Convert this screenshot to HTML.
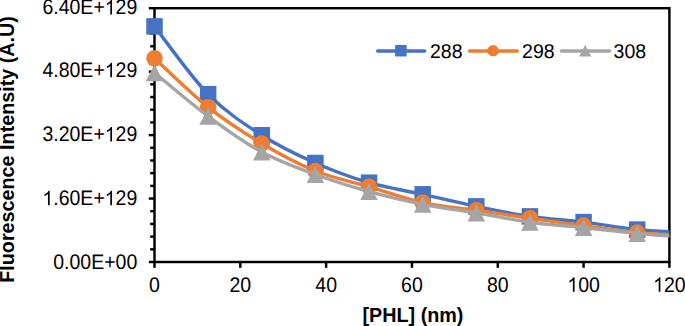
<!DOCTYPE html>
<html><head><meta charset="utf-8"><style>
html,body{margin:0;padding:0;background:#fff;}
svg{display:block;}
.t{text-rendering:geometricPrecision;font-family:"Liberation Sans",sans-serif;font-size:19.5px;fill:#000;}
.b{font-family:"Liberation Sans",sans-serif;font-size:19.75px;font-weight:bold;fill:#000;}
</style></head><body>
<svg width="685" height="326" viewBox="0 0 685 326">
<defs><clipPath id="c"><rect x="144.5" y="0" width="524.9" height="326"/></clipPath></defs>
<rect width="685" height="326" fill="#fff"/>
<rect x="154.5" y="8.2" width="514.9" height="253.8" fill="none" stroke="#000" stroke-width="2.45"/>
<line x1="148.8" y1="262.00" x2="154.5" y2="262.00" stroke="#000" stroke-width="2.45"/>
<line x1="150.2" y1="249.31" x2="154.5" y2="249.31" stroke="#000" stroke-width="2.45"/>
<line x1="150.2" y1="236.62" x2="154.5" y2="236.62" stroke="#000" stroke-width="2.45"/>
<line x1="150.2" y1="223.93" x2="154.5" y2="223.93" stroke="#000" stroke-width="2.45"/>
<line x1="150.2" y1="211.24" x2="154.5" y2="211.24" stroke="#000" stroke-width="2.45"/>
<line x1="148.8" y1="198.55" x2="154.5" y2="198.55" stroke="#000" stroke-width="2.45"/>
<line x1="150.2" y1="185.86" x2="154.5" y2="185.86" stroke="#000" stroke-width="2.45"/>
<line x1="150.2" y1="173.17" x2="154.5" y2="173.17" stroke="#000" stroke-width="2.45"/>
<line x1="150.2" y1="160.48" x2="154.5" y2="160.48" stroke="#000" stroke-width="2.45"/>
<line x1="150.2" y1="147.79" x2="154.5" y2="147.79" stroke="#000" stroke-width="2.45"/>
<line x1="148.8" y1="135.10" x2="154.5" y2="135.10" stroke="#000" stroke-width="2.45"/>
<line x1="150.2" y1="122.41" x2="154.5" y2="122.41" stroke="#000" stroke-width="2.45"/>
<line x1="150.2" y1="109.72" x2="154.5" y2="109.72" stroke="#000" stroke-width="2.45"/>
<line x1="150.2" y1="97.03" x2="154.5" y2="97.03" stroke="#000" stroke-width="2.45"/>
<line x1="150.2" y1="84.34" x2="154.5" y2="84.34" stroke="#000" stroke-width="2.45"/>
<line x1="148.8" y1="71.65" x2="154.5" y2="71.65" stroke="#000" stroke-width="2.45"/>
<line x1="150.2" y1="58.96" x2="154.5" y2="58.96" stroke="#000" stroke-width="2.45"/>
<line x1="150.2" y1="46.27" x2="154.5" y2="46.27" stroke="#000" stroke-width="2.45"/>
<line x1="150.2" y1="33.58" x2="154.5" y2="33.58" stroke="#000" stroke-width="2.45"/>
<line x1="150.2" y1="20.89" x2="154.5" y2="20.89" stroke="#000" stroke-width="2.45"/>
<line x1="148.8" y1="8.20" x2="154.5" y2="8.20" stroke="#000" stroke-width="2.45"/>
<line x1="154.50" y1="262.0" x2="154.50" y2="267.8" stroke="#000" stroke-width="2.45"/>
<line x1="240.32" y1="262.0" x2="240.32" y2="267.8" stroke="#000" stroke-width="2.45"/>
<line x1="326.13" y1="262.0" x2="326.13" y2="267.8" stroke="#000" stroke-width="2.45"/>
<line x1="411.95" y1="262.0" x2="411.95" y2="267.8" stroke="#000" stroke-width="2.45"/>
<line x1="497.77" y1="262.0" x2="497.77" y2="267.8" stroke="#000" stroke-width="2.45"/>
<line x1="583.58" y1="262.0" x2="583.58" y2="267.8" stroke="#000" stroke-width="2.45"/>
<line x1="669.40" y1="262.0" x2="669.40" y2="267.8" stroke="#000" stroke-width="2.45"/>
<text transform="translate(53.26,268.50) scale(1,1.08)" x="0" y="0" class="t">0.00E+00</text>
<text transform="translate(42.42,205.25) scale(1,1.08)" x="0" y="0" class="t"> .60E+ 29</text><path transform="translate(42.42,205.25) scale(0.009521,-0.009883)" d="M763,0L583,0L583,1147Q518,1085 465,1054Q412,1023 359,992Q306,961 222,930L222,1104Q373,1175 429.5,1225.5Q486,1276 542,1326Q598,1376 645,1466L763,1466Z"/><path transform="translate(104.77,205.25) scale(0.009521,-0.009883)" d="M763,0L583,0L583,1147Q518,1085 465,1054Q412,1023 359,992Q306,961 222,930L222,1104Q373,1175 429.5,1225.5Q486,1276 542,1326Q598,1376 645,1466L763,1466Z"/>
<text transform="translate(42.42,141.40) scale(1,1.08)" x="0" y="0" class="t">3.20E+ 29</text><path transform="translate(104.77,141.40) scale(0.009521,-0.009883)" d="M763,0L583,0L583,1147Q518,1085 465,1054Q412,1023 359,992Q306,961 222,930L222,1104Q373,1175 429.5,1225.5Q486,1276 542,1326Q598,1376 645,1466L763,1466Z"/>
<text transform="translate(42.42,77.35) scale(1,1.08)" x="0" y="0" class="t">4.80E+ 29</text><path transform="translate(104.77,77.35) scale(0.009521,-0.009883)" d="M763,0L583,0L583,1147Q518,1085 465,1054Q412,1023 359,992Q306,961 222,930L222,1104Q373,1175 429.5,1225.5Q486,1276 542,1326Q598,1376 645,1466L763,1466Z"/>
<text transform="translate(42.42,14.40) scale(1,1.08)" x="0" y="0" class="t">6.40E+ 29</text><path transform="translate(104.77,14.40) scale(0.009521,-0.009883)" d="M763,0L583,0L583,1147Q518,1085 465,1054Q412,1023 359,992Q306,961 222,930L222,1104Q373,1175 429.5,1225.5Q486,1276 542,1326Q598,1376 645,1466L763,1466Z"/>
<text transform="translate(149.08,291.70) scale(1,1.08)" x="0" y="0" class="t">0</text>
<text transform="translate(229.47,291.70) scale(1,1.08)" x="0" y="0" class="t">20</text>
<text transform="translate(315.29,291.70) scale(1,1.08)" x="0" y="0" class="t">40</text>
<text transform="translate(401.11,291.70) scale(1,1.08)" x="0" y="0" class="t">60</text>
<text transform="translate(486.92,291.70) scale(1,1.08)" x="0" y="0" class="t">80</text>
<text transform="translate(567.32,291.70) scale(1,1.08)" x="0" y="0" class="t"> 00</text><path transform="translate(567.32,291.70) scale(0.009521,-0.009883)" d="M763,0L583,0L583,1147Q518,1085 465,1054Q412,1023 359,992Q306,961 222,930L222,1104Q373,1175 429.5,1225.5Q486,1276 542,1326Q598,1376 645,1466L763,1466Z"/>
<text transform="translate(653.13,291.70) scale(1,1.08)" x="0" y="0" class="t"> 20</text><path transform="translate(653.13,291.70) scale(0.009521,-0.009883)" d="M763,0L583,0L583,1147Q518,1085 465,1054Q412,1023 359,992Q306,961 222,930L222,1104Q373,1175 429.5,1225.5Q486,1276 542,1326Q598,1376 645,1466L763,1466Z"/>
<text x="413" y="321.5" text-anchor="middle" class="b">[PHL] (nm)</text>
<text transform="translate(14.2,149.4) rotate(-90)" x="0" y="0" text-anchor="middle" class="b">Fluorescence Intensity (A.U)</text>
<g clip-path="url(#c)">
<path d="M154.50,26.40 C163.44,37.70 190.26,76.07 208.14,94.20 C226.01,112.33 243.89,123.73 261.77,135.20 C279.65,146.67 297.53,155.08 315.41,163.00 C333.28,170.92 351.16,177.48 369.04,182.70 C386.92,187.92 404.80,190.35 422.68,194.30 C440.56,198.25 458.43,202.72 476.31,206.40 C494.19,210.08 512.07,213.78 529.95,216.40 C547.83,219.02 565.70,219.90 583.58,222.10 C601.46,224.30 619.34,227.82 637.22,229.60 C655.10,231.38 681.91,232.27 690.85,232.80" fill="none" stroke="#4472C4" stroke-width="3.4" stroke-linejoin="round" stroke-linecap="round"/><rect x="146.25" y="18.15" width="16.5" height="16.5" fill="#4472C4"/><rect x="199.89" y="85.95" width="16.5" height="16.5" fill="#4472C4"/><rect x="253.52" y="126.95" width="16.5" height="16.5" fill="#4472C4"/><rect x="307.16" y="154.75" width="16.5" height="16.5" fill="#4472C4"/><rect x="360.79" y="174.45" width="16.5" height="16.5" fill="#4472C4"/><rect x="414.43" y="186.05" width="16.5" height="16.5" fill="#4472C4"/><rect x="468.06" y="198.15" width="16.5" height="16.5" fill="#4472C4"/><rect x="521.70" y="208.15" width="16.5" height="16.5" fill="#4472C4"/><rect x="575.33" y="213.85" width="16.5" height="16.5" fill="#4472C4"/><rect x="628.97" y="221.35" width="16.5" height="16.5" fill="#4472C4"/>
<path d="M154.50,58.30 C163.44,66.45 190.26,93.00 208.14,107.20 C226.01,121.40 243.89,132.87 261.77,143.50 C279.65,154.13 297.53,163.80 315.41,171.00 C333.28,178.20 351.16,181.43 369.04,186.70 C386.92,191.97 404.80,198.68 422.68,202.60 C440.56,206.52 458.43,207.60 476.31,210.20 C494.19,212.80 512.07,215.63 529.95,218.20 C547.83,220.77 565.70,223.20 583.58,225.60 C601.46,228.00 619.34,230.90 637.22,232.60 C655.10,234.30 681.91,235.27 690.85,235.80" fill="none" stroke="#ED7D31" stroke-width="3.4" stroke-linejoin="round" stroke-linecap="round"/><circle cx="154.50" cy="58.30" r="8.25" fill="#ED7D31"/><circle cx="208.14" cy="107.20" r="8.25" fill="#ED7D31"/><circle cx="261.77" cy="143.50" r="8.25" fill="#ED7D31"/><circle cx="315.41" cy="171.00" r="8.25" fill="#ED7D31"/><circle cx="369.04" cy="186.70" r="8.25" fill="#ED7D31"/><circle cx="422.68" cy="202.60" r="8.25" fill="#ED7D31"/><circle cx="476.31" cy="210.20" r="8.25" fill="#ED7D31"/><circle cx="529.95" cy="218.20" r="8.25" fill="#ED7D31"/><circle cx="583.58" cy="225.60" r="8.25" fill="#ED7D31"/><circle cx="637.22" cy="232.60" r="8.25" fill="#ED7D31"/>
<path d="M154.50,72.75 C163.44,80.01 190.26,103.09 208.14,116.30 C226.01,129.51 243.89,142.30 261.77,152.00 C279.65,161.70 297.53,167.90 315.41,174.50 C333.28,181.10 351.16,186.63 369.04,191.60 C386.92,196.57 404.80,200.75 422.68,204.30 C440.56,207.85 458.43,209.92 476.31,212.90 C494.19,215.88 512.07,219.75 529.95,222.20 C547.83,224.65 565.70,225.73 583.58,227.60 C601.46,229.47 619.34,231.70 637.22,233.40 C655.10,235.10 681.91,237.07 690.85,237.80" fill="none" stroke="#A5A5A5" stroke-width="3.4" stroke-linejoin="round" stroke-linecap="round"/><polygon points="154.50,64.25 163.25,81.25 145.75,81.25" fill="#A5A5A5"/><polygon points="208.14,107.80 216.88,124.80 199.39,124.80" fill="#A5A5A5"/><polygon points="261.77,143.50 270.52,160.50 253.03,160.50" fill="#A5A5A5"/><polygon points="315.41,166.00 324.15,183.00 306.66,183.00" fill="#A5A5A5"/><polygon points="369.04,183.10 377.79,200.10 360.30,200.10" fill="#A5A5A5"/><polygon points="422.68,195.80 431.42,212.80 413.93,212.80" fill="#A5A5A5"/><polygon points="476.31,204.40 485.06,221.40 467.57,221.40" fill="#A5A5A5"/><polygon points="529.95,213.70 538.69,230.70 521.20,230.70" fill="#A5A5A5"/><polygon points="583.58,219.10 592.33,236.10 574.84,236.10" fill="#A5A5A5"/><polygon points="637.22,224.90 645.96,241.90 628.47,241.90" fill="#A5A5A5"/>
</g>
<line x1="377.6" y1="51.050000000000004" x2="424.7" y2="51.050000000000004" stroke="#4472C4" stroke-width="3.4" stroke-linecap="round"/>
<rect x="395.15" y="44.95" width="11.5" height="11.5" fill="#4472C4"/>
<text transform="translate(430.00,57.50) scale(1,1.02)" x="0" y="0" class="t">288</text>
<line x1="469.6" y1="51.050000000000004" x2="517.4" y2="51.050000000000004" stroke="#ED7D31" stroke-width="3.4" stroke-linecap="round"/>
<circle cx="493.10" cy="50.70" r="5.75" fill="#ED7D31"/>
<text transform="translate(522.10,57.50) scale(1,1.02)" x="0" y="0" class="t">298</text>
<line x1="561.5" y1="51.050000000000004" x2="609.6" y2="51.050000000000004" stroke="#A5A5A5" stroke-width="3.4" stroke-linecap="round"/>
<polygon points="585.20,44.78 591.30,56.62 579.11,56.62" fill="#A5A5A5"/>
<text transform="translate(613.60,57.50) scale(1,1.02)" x="0" y="0" class="t">308</text>
</svg>
</body></html>
